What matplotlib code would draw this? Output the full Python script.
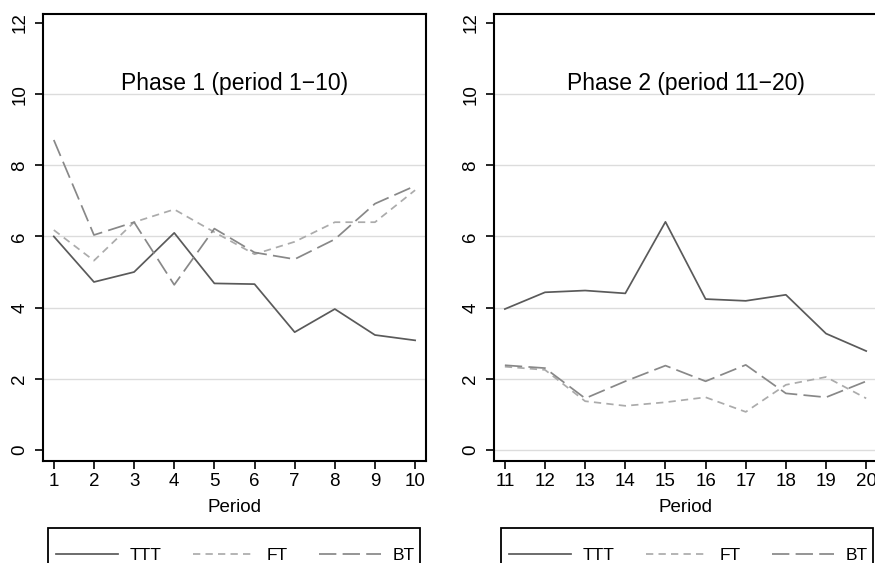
import numpy as np
import matplotlib
matplotlib.use("Agg")
import matplotlib.pyplot as plt
from matplotlib.ticker import MultipleLocator
from matplotlib.patches import Rectangle

#-------------------------------------------------
#       Setting configurations
#-------------------------------------------------

plt.rcParams['font.family'] = ['Liberation Sans', 'DejaVu Sans']
plt.rcParams['font.size'] = 13.5

# line styles for the three treatments
c_ttt = "#5a5a5a"
c_ft = "#ababab"
c_bt = "#888888"

#-------------------------------------------------
#       Data
#-------------------------------------------------

period_1 = [1, 2, 3, 4, 5, 6, 7, 8, 9, 10]
ttt_1 = [6.0, 4.72, 5.0, 6.1, 4.68, 4.66, 3.31, 3.96, 3.23, 3.08]
ft_1 = [6.18, 5.32, 6.4, 6.76, 6.12, 5.5, 5.85, 6.4, 6.4, 7.3]
bt_1 = [8.71, 6.04, 6.4, 4.64, 6.22, 5.55, 5.36, 5.92, 6.92, 7.42]

period_2 = [11, 12, 13, 14, 15, 16, 17, 18, 19, 20]
ttt_2 = [3.96, 4.43, 4.48, 4.4, 6.41, 4.24, 4.19, 4.36, 3.27, 2.78]
ft_2 = [2.34, 2.25, 1.37, 1.24, 1.34, 1.48, 1.07, 1.83, 2.05, 1.45]
bt_2 = [2.38, 2.3, 1.45, 1.93, 2.37, 1.93, 2.39, 1.59, 1.48, 1.93]

titles = ["Phase 1 (period 1\u221210)", "Phase 2 (period 11\u221220)"]
labels = ["TTT", "FT", "BT"]

#-------------------------------------------------
#       Figure
#-------------------------------------------------

W, H = 875, 563
fig = plt.figure(figsize=(W / 100, H / 100), dpi=100)
ax1 = fig.add_axes([0.0491, 0.1812, 0.4377, 0.7939])
ax2 = fig.add_axes([0.5646, 0.1812, 0.4377, 0.7939])

panels = [(ax1, period_1, ttt_1, ft_1, bt_1),
          (ax2, period_2, ttt_2, ft_2, bt_2)]

# legend box left edges (pixels), frame runs off the bottom edge
leg_left = [48, 501]

for k, (ax, x, ttt, ft, bt) in enumerate(panels):
    ax.plot(x, ttt, color=c_ttt, lw=1.25, label=labels[0], zorder=3)
    ax.plot(x, ft, color=c_ft, lw=1.25, dashes=(4.2, 3.0), label=labels[1], zorder=3)
    ax.plot(x, bt, color=c_bt, lw=1.25, dashes=(10, 3.6), label=labels[2], zorder=3)

    ax.set_xlim(x[0] - 0.27, x[-1] + 0.27)
    ax.set_ylim(-0.31, 12.25)
    ax.set_xticks(x)
    ax.yaxis.set_major_locator(MultipleLocator(2))

    # light horizontal reference lines
    grid_levels = [2, 4, 6, 8, 10] if k == 0 else [0, 2, 4, 6, 8, 10]
    for g in grid_levels:
        ax.axhline(g, color="#dcdcdc", lw=1.0, zorder=1)

    for s in ax.spines.values():
        s.set_linewidth(1.5)
    ax.tick_params(axis='y', direction='out', length=5.5, width=1.2, pad=5)
    ax.tick_params(axis='x', direction='out', length=6, width=1.2, pad=3)
    for lab in ax.get_yticklabels():
        lab.set_rotation(90)
        lab.set_va('center')

    ax.set_xlabel("Period", labelpad=6)
    ax.text(0.5, (10.3 + 0.31) / 12.56, titles[k], transform=ax.transAxes,
            ha='center', va='center', fontsize=16.5)

    x0 = leg_left[k]
    fig.patches.append(Rectangle((x0 / W, -0.1), 372 / W, 0.1 + 1 - 528 / H,
                                 transform=fig.transFigure, fill=False,
                                 edgecolor='black', lw=1.3))
    ax.legend(loc='center left', ncol=3, frameon=False,
              bbox_to_anchor=((x0 + 8) / W, 1 - 555 / H),
              bbox_transform=fig.transFigure, handlelength=3.56,
              handletextpad=0.69, columnspacing=1.8,
              borderpad=0.0, borderaxespad=0.0, fontsize=12.5)

fig.savefig("out.png", dpi=100)
